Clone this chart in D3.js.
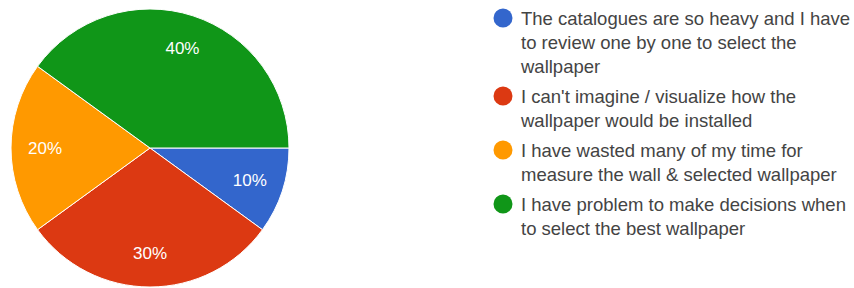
<!DOCTYPE html>
<html>
<head>
<meta charset="utf-8">
<script src="https://cdnjs.cloudflare.com/ajax/libs/d3/7.8.5/d3.min.js"></script>
<style>
  body { margin: 0; background: #fff; }
  svg text { font-family: "Liberation Sans", Arial, sans-serif; }
</style>
</head>
<body>
<div id="chart"></div>
<script>
// answers, as they wrap in the legend
const categories = [
  ["The catalogues are so heavy and I have", "to review one by one to select the", "wallpaper"],
  ["I can't imagine / visualize how the", "wallpaper would be installed"],
  ["I have wasted many of my time for", "measure the wall & selected wallpaper"],
  ["I have problem to make decisions when", "to select the best wallpaper"]
]
const values = [10, 30, 20, 40]
const colors = ["#3366cc", "#dc3912", "#ff9900", "#109618"]

const width = 854, height = 288
const cx = 150, cy = 148, radius = 139

const svg = d3.select("#chart")
  .append("svg")
    .attr("width", width)
    .attr("height", height)

const total = d3.sum(values)

// google style pie: first slice starts at 3 o'clock, clockwise
const pie = d3.pie()
  .sort(null)
  .value(d => d)
  .startAngle(Math.PI / 2)
  .endAngle(Math.PI / 2 + 2 * Math.PI)

const arc = d3.arc().innerRadius(0).outerRadius(radius)
const labelArc = d3.arc().innerRadius(105).outerRadius(105)

const g = svg.append("g")
  .attr("transform", `translate(${cx}, ${cy})`)

const slices = g.selectAll(".slice")
  .data(pie(values))
  .enter()
  .append("g")
    .attr("class", "slice")

slices.append("path")
  .attr("d", arc)
  .attr("fill", (d, i) => colors[i])
  .attr("stroke", "#fff")
  .attr("stroke-width", 1)

slices.append("text")
  .attr("transform", d => `translate(${labelArc.centroid(d)})`)
  .attr("text-anchor", "middle")
  .attr("dy", "0.35em")
  .attr("fill", "#fff")
  .style("font-size", "17px")
  .text(d => Math.round(d.data / total * 100) + "%")

// legend
const legend = svg.append("g")
  .attr("transform", "translate(503, 0)")

let y = 25
categories.forEach(function(lines, i){
  legend.append("circle")
    .attr("cx", 0)
    .attr("cy", y - 7)
    .attr("r", 9.5)
    .attr("fill", colors[i])
  let t = legend.append("text")
    .attr("x", 18)
    .attr("y", y)
    .attr("fill", "#444")
    .style("font-size", "18.5px")
  lines.forEach(function(line, j){
    t.append("tspan")
      .attr("x", 18)
      .attr("dy", j == 0 ? 0 : 24)
      .text(line)
  })
  y += lines.length * 24 + 6
})
</script>
</body>
</html>
